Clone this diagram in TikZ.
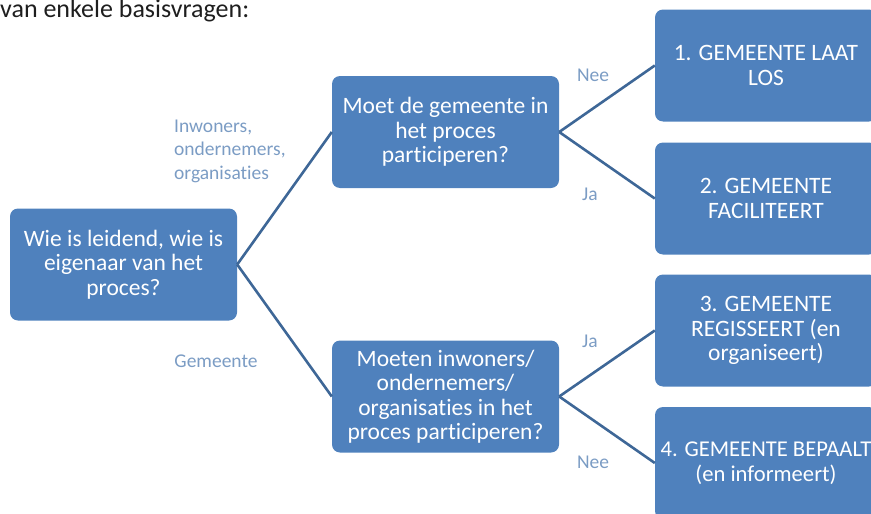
\documentclass[tikz,border=0pt]{standalone}
\usepackage{fontspec}
\setmainfont{Carlito}[Ligatures=CommonOff]
\definecolor{boxblue}{HTML}{4F81BD}
\definecolor{linkblue}{HTML}{3E6797}
\definecolor{lblblue}{HTML}{7B9CC4}
\definecolor{toptext}{HTML}{1E1E1E}
\begin{document}
\begin{tikzpicture}[x=1pt,y=-1pt,
  qbox/.style={draw=none, fill=boxblue, rounded corners=8pt, minimum width=227pt, minimum height=112pt,
    inner sep=0pt, align=center, text=white, font=\fontsize{23.5}{24.5}\selectfont},
  rbox/.style={qbox, minimum width=222pt},
  lbl/.style={text=lblblue, font=\fontsize{19.5}{23.5}\selectfont, inner sep=0pt},
  link/.style={draw=linkblue, line width=2.6pt}]
\useasboundingbox (0,0) rectangle (871,514);
\clip (0,0) rectangle (871,514);
\node[anchor=west, inner sep=0pt, text=toptext, font=\fontsize{26}{28}\selectfont] (top) at (0,11) {van enkele basisvragen:};
\node[qbox] (A) at (123.5,264.5) {Wie is leidend, wie is\\eigenaar van het\\proces?};
\node[qbox] (B) at (445.5,132) {Moet de gemeente in\\het proces\\participeren?};
\node[qbox] (C) at (445.5,396.5) {Moeten inwoners/\\ondernemers/\\organisaties in het\\proces participeren?};
\node[rbox] (R1) at (766,65.5) {1. GEMEENTE LAAT\\LOS};
\node[rbox] (R2) at (766,198.5) {2. GEMEENTE\\FACILITEERT};
\node[rbox] (R3) at (766,330.5) {3. GEMEENTE\\REGISSEERT (en\\organiseert)};
\node[rbox, font=\fontsize{22.6}{24.5}\selectfont] (R4) at (766,463) {4. GEMEENTE BEPAALT\\(en informeert)};
\draw[link] (A.east) -- (B.west);
\draw[link] (A.east) -- (C.west);
\draw[link] (B.east) -- (R1.west);
\draw[link] (B.east) -- (R2.west);
\draw[link] (C.east) -- (R3.west);
\draw[link] (C.east) -- (R4.west);
\node[lbl, anchor=west, align=left] (l1) at (174,151) {Inwoners,\\ondernemers,\\organisaties};
\node[lbl] (l2) at (216,361) {Gemeente};
\node[lbl] (l3) at (593,75) {Nee};
\node[lbl] (l4) at (590,194) {Ja};
\node[lbl] (l5) at (590,341) {Ja};
\node[lbl] (l6) at (593,462) {Nee};
\end{tikzpicture}
\end{document}
